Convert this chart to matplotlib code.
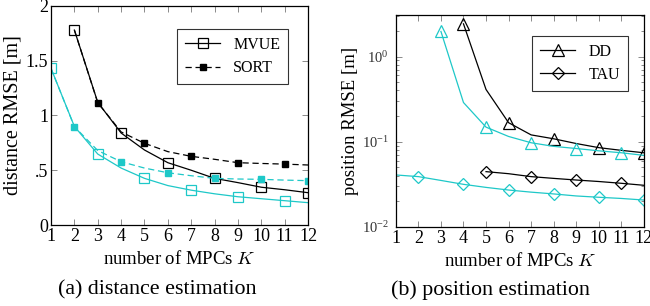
import numpy as np
import matplotlib
matplotlib.use("Agg")
import matplotlib.pyplot as plt
from matplotlib.ticker import LogLocator, NullFormatter, FixedLocator

plt.rcParams['font.family'] = ['Liberation Serif', 'DejaVu Serif']
plt.rcParams['mathtext.fontset'] = 'cm'

K = np.arange(1, 13)
nan = np.nan

# (a) distance RMSE [m]
mvue_black = [nan, 1.78, 1.12, 0.84, 0.685, 0.569, 0.50, 0.426, 0.387, 0.345, 0.322, 0.295]
sort_black = [nan, 1.78, 1.117, 0.85, 0.746, 0.67, 0.627, 0.60, 0.569, 0.562, 0.556, 0.548]
mvue_cyan = [1.43, 0.90, 0.648, 0.52, 0.426, 0.36, 0.318, 0.285, 0.258, 0.24, 0.222, 0.204]
sort_cyan = [1.43, 0.898, 0.68, 0.578, 0.52, 0.477, 0.45, 0.426, 0.42, 0.417, 0.41, 0.405]

# (b) position RMSE [m]
dd_black = [nan, nan, nan, 2.42, 0.41, 0.167, 0.12, 0.108, 0.095, 0.085, 0.079, 0.074]
dd_cyan = [nan, nan, 1.97, 0.288, 0.148, 0.115, 0.097, 0.088, 0.083, 0.078, 0.074, 0.069]
tau_black = [nan, nan, nan, nan, 0.0444, 0.042, 0.0388, 0.037, 0.0354, 0.034, 0.0324, 0.0307]
tau_cyan = [0.0406, 0.0388, 0.035, 0.0315, 0.029, 0.027, 0.0255, 0.0243, 0.023, 0.0222, 0.0215, 0.0206]

xticks = list(range(1, 13))
yticks_a = [0, 0.5, 1, 1.5, 2]
yticklabels_a = ['0', '.5', '1', '1.5', '2']

CY = '#1ec8c8'
LW = 0.9

fig = plt.figure(figsize=(6.5, 3.06), dpi=100)
ax1 = fig.add_axes([0.0785, 0.2647, 0.3954, 0.7157])
ax2 = fig.add_axes([0.609, 0.259, 0.3815, 0.693])

# --- (a)
ax1.plot(K, mvue_black, '-', color='black', lw=LW, marker='s', ms=7, mfc='none', mec='black',
         mew=0.9, markevery=[1, 3, 5, 7, 9, 11], label='MVUE')
ax1.plot(K, sort_black, '--', color='black', lw=LW, dashes=(5, 3), marker='s', ms=4,
         mfc='black', mec='black', markevery=[2, 4, 6, 8, 10], label='SORT')
ax1.plot(K, mvue_cyan, '-', color=CY, lw=LW, marker='s', ms=7, mfc='none', mec=CY,
         mew=0.9, markevery=[0, 2, 4, 6, 8, 10])
ax1.plot(K, sort_cyan, '--', color=CY, lw=LW, dashes=(5, 3), marker='s', ms=4,
         mfc=CY, mec=CY, markevery=[1, 3, 5, 7, 9, 11])
ax1.set_xlim(1, 12)
ax1.set_ylim(0, 2)
ax1.set_xticks(xticks)
ax1.set_yticks(yticks_a)
ax1.set_yticklabels(yticklabels_a)
ax1.set_ylabel('distance RMSE [m]', fontsize=14.5, labelpad=2)
ax1.set_xlabel('number of MPCs $K$', fontsize=13.5, labelpad=4)
leg1 = ax1.legend(loc='upper right', bbox_to_anchor=(0.923, 0.895), borderaxespad=0,
                  fontsize=11.5, frameon=True, fancybox=False, edgecolor='black',
                  handlelength=2.2, borderpad=0.5, labelspacing=0.45)
leg1.get_frame().set_linewidth(0.8)

# --- (b)
ax2.set_yscale('log')
ax2.plot(K, dd_black, '-', color='black', lw=LW, marker='^', ms=8, mfc='none', mec='black',
         mew=0.9, markevery=[3, 5, 7, 9, 11], label='DD')
ax2.plot(K, tau_black, '-', color='black', lw=LW, marker='D', ms=6.5, mfc='none', mec='black',
         mew=0.9, markevery=[4, 6, 8, 10], label='TAU')
ax2.plot(K, dd_cyan, '-', color=CY, lw=LW, marker='^', ms=8, mfc='none', mec=CY,
         mew=0.9, markevery=[2, 4, 6, 8, 10])
ax2.plot(K, tau_cyan, '-', color=CY, lw=LW, marker='D', ms=6.5, mfc='none', mec=CY,
         mew=0.9, markevery=[1, 3, 5, 7, 9, 11])
ax2.set_xlim(1, 12)
ax2.set_ylim(0.01, 3.1)
ax2.set_xticks(xticks)
ax2.yaxis.set_major_locator(FixedLocator([0.01, 0.1, 1]))
ax2.yaxis.set_minor_locator(LogLocator(base=10, subs=np.arange(2, 10), numticks=20))
ax2.yaxis.set_minor_formatter(NullFormatter())
ax2.set_ylabel('position RMSE [m]', fontsize=13.5, labelpad=2)
ax2.set_xlabel('number of MPCs $K$', fontsize=13.5, labelpad=4)
leg2 = ax2.legend(loc='upper right', bbox_to_anchor=(0.935, 0.9), borderaxespad=0,
                  fontsize=11.5, frameon=True, fancybox=False, edgecolor='black',
                  handlelength=2.2, borderpad=0.5, labelspacing=0.45)
leg2.get_frame().set_linewidth(0.8)

for ax in (ax1, ax2):
    ax.tick_params(which='both', direction='in', top=True, right=True, length=4,
                   width=0.6, color='#777777', labelsize=13, pad=2)
    ax.tick_params(which='minor', length=2.5)
    for s in ax.spines.values():
        s.set_linewidth(0.9)
ax2.tick_params(axis='y', which='major', labelsize=10.5, pad=5, labelcolor='#333333')

fig.text(0.2415, 0.052, '(a) distance estimation', ha='center', va='center', fontsize=15.8)
fig.text(0.755, 0.052, '(b) position estimation', ha='center', va='center', fontsize=15.8)

fig.savefig('out.png', dpi=100)
